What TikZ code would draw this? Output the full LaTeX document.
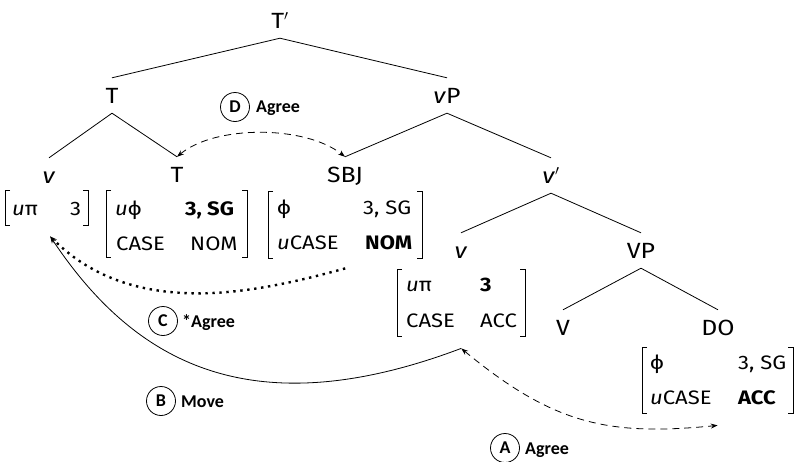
\documentclass[tikz,border=0pt]{standalone}
\usepackage{fontspec}
\setmainfont{Fira Sans}[FakeStretch=1.13]
\newfontfamily\tagfont{Carlito}
\usetikzlibrary{arrows.meta}

\tikzset{
  lbl/.style={font=\fontsize{22}{26}\selectfont, text height=15pt, text depth=0pt,
              inner xsep=0pt, inner ysep=10pt, anchor=base},
  feat/.style={font=\fontsize{19.5}{23}\selectfont, inner sep=0pt, anchor=base west},
  fsbox/.style={inner sep=0pt, anchor=north west},
  brk/.style={line width=0.9pt},
  branch/.style={line width=0.8pt},
  tip/.style={-{Stealth[length=7pt,width=5pt]}},
  agreearrow/.style={{Stealth[length=7pt,width=5pt]}-{Stealth[length=7pt,width=5pt]},
                     line width=0.8pt, dash pattern=on 7pt off 5pt},
  movearrow/.style={tip, line width=0.8pt},
  failarrow/.style={tip, line width=2.4pt, dash pattern=on 2.4pt off 4.6pt},
  tag/.style={circle, draw, line width=0.8pt, minimum size=29pt, inner sep=0pt,
              font=\tagfont\fontsize{18}{21}\selectfont\bfseries},
  taglbl/.style={font=\tagfont\fontsize{18}{21}\selectfont\bfseries, inner sep=0pt, anchor=base west}
}

% square brackets around a feature structure box
\newcommand\fsbrackets[1]{%
  \draw[brk] ([xshift=5pt]#1.north west) -- (#1.north west) -- (#1.south west) -- ([xshift=5pt]#1.south west);
  \draw[brk] ([xshift=-5pt]#1.north east) -- (#1.north east) -- (#1.south east) -- ([xshift=-5pt]#1.south east);}

\begin{document}
\begin{tikzpicture}[x=1pt,y=-1pt]
\useasboundingbox (0,0) rectangle (796,461);

% tree labels
\node[lbl] (Tp)   at (280,28)  {T$'$};
\node[lbl] (T1)   at (112,103) {T};
\node[lbl] (vP)   at (447,103) {\textit{v}P};
\node[lbl] (vL)   at (49,183)  {\textit{v}};
\node[lbl] (T2)   at (177,182) {T};
\node[lbl] (SBJ)  at (345,182) {SBJ};
\node[lbl] (vbar) at (551,183) {\textit{v}$'$};
\node[lbl] (vM)   at (461,258) {\textit{v}};
\node[lbl] (VP)   at (641,258) {VP};
\node[lbl] (V)    at (563,335) {V};
\node[lbl] (DO)   at (718,335) {DO};

% branches
\draw[branch] (Tp.south) -- (T1.north);
\draw[branch] (Tp.south) -- (vP.north);
\draw[branch] (T1.south) -- (vL.north);
\draw[branch] (T1.south) -- (T2.north);
\draw[branch] (vP.south) -- (SBJ.north);
\draw[branch] (vP.south) -- (vbar.north);
\draw[branch] (vbar.south) -- (vM.north);
\draw[branch] (vbar.south) -- (VP.north);
\draw[branch] (VP.south) -- (V.north);
\draw[branch] (VP.south) -- (DO.north);

% feature structures
\node[fsbox, minimum width=83pt,  minimum height=35pt] (fs1) at (5,190)   {};
\node[fsbox, minimum width=141pt, minimum height=67pt] (fs2) at (106,190) {};
\node[fsbox, minimum width=154pt, minimum height=67pt] (fs3) at (268,191) {};
\node[fsbox, minimum width=128pt, minimum height=67pt] (fs4) at (397,269) {};
\node[fsbox, minimum width=151pt, minimum height=66pt] (fs5) at (642,347) {};
\fsbrackets{fs1}
\fsbrackets{fs2}
\fsbrackets{fs3}
\fsbrackets{fs4}
\fsbrackets{fs5}

\node[feat] at (12,215)  {\textit{u}π};
\node[feat] at (70,215)  {3};

\node[feat] at (115,215) {\textit{u}ϕ};
\node[feat] at (185,215) {\textbf{3, SG}};
\node[feat] at (116,250) {CASE};
\node[feat] at (190,250) {NOM};

\node[feat] at (277,214) {ϕ};
\node[feat] at (363,214) {3, SG};
\node[feat] at (277,249) {\textit{u}CASE};
\node[feat] at (365,249) {\textbf{NOM}};

\node[feat] at (406,291) {\textit{u}π};
\node[feat] at (480,291) {\textbf{3}};
\node[feat] at (406,327) {CASE};
\node[feat] at (480,327) {ACC};

\node[feat] at (650,369) {ϕ};
\node[feat] at (738,369) {3, SG};
\node[feat] at (650,404) {\textit{u}CASE};
\node[feat] at (738,404) {\textbf{ACC}};

% relations
\draw[agreearrow] (T2.north) .. controls (215,125) and (305,125) .. (SBJ.north);
\draw[failarrow] ([yshift=-10pt]fs3.south) .. controls (259,292) and (135,321) .. ([xshift=3.5pt,yshift=-11pt]fs1.south);
\draw[movearrow] ([yshift=-12pt]fs4.south) .. controls (250,428) and (134,362) .. ([xshift=3.5pt,yshift=-11pt]fs1.south);
\draw[agreearrow] ([yshift=-12pt]fs4.south) .. controls (554,425) and (609,436) .. ([yshift=-12pt]fs5.south);

% relation tags
\node[tag] (cD) at (235,107) {D};
\node[taglbl] at (256,112) {Agree};
\node[tag] (cC) at (163,321) {C};
\node[taglbl] at (182,327) {*Agree};
\node[tag] (cB) at (161,401) {B};
\node[taglbl] at (181,407) {Move};
\node[tag] (cA) at (505,448) {A};
\node[taglbl] at (525,454) {Agree};
\end{tikzpicture}
\end{document}
